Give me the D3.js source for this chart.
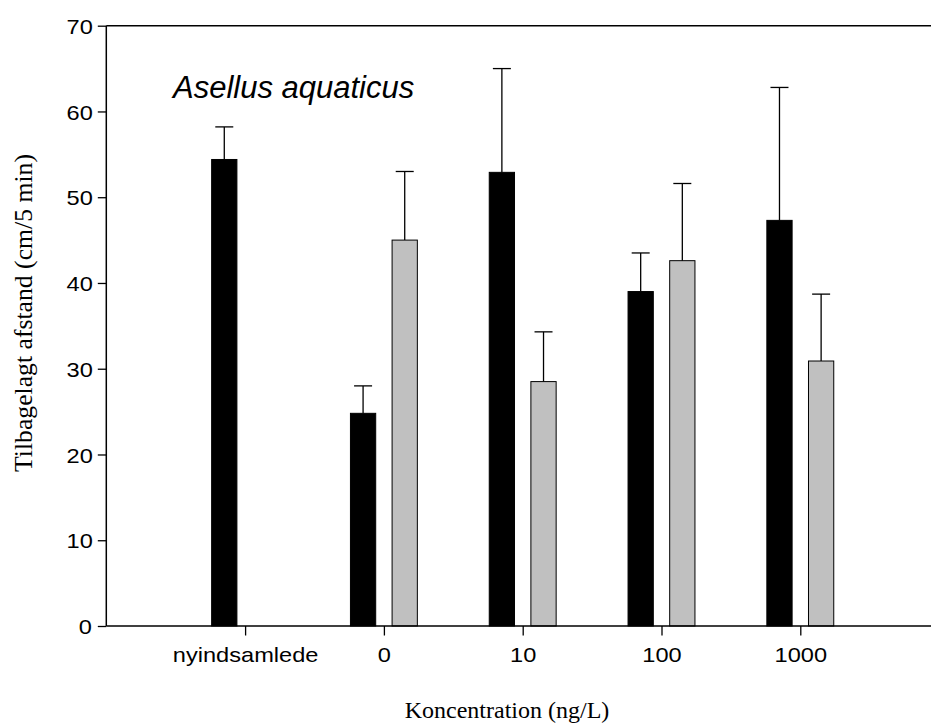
<!DOCTYPE html>
<html lang="en">
<head>
<meta charset="utf-8">
<title>Asellus aquaticus</title>
<script src="https://d3js.org/d3.v7.min.js" charset="utf-8"></script>
<style>
body { margin: 0; background: #fff; }
svg { display: block; }
.tick text {
  font-family: "Liberation Sans", Arial, sans-serif;
  font-size: 20px;
  fill: #000;
  transform-box: fill-box;
  transform-origin: center;
  transform: scaleX(1.18);
}
.axis-title { font-family: "Liberation Serif", "Times New Roman", serif; font-size: 24px; fill: #000; }
</style>
</head>
<body>
<svg width="931" height="725"></svg>
<script>
// data
var categories = ["nyindsamlede", "0", "10", "100", "1000"];
var blackMean = [54.4, 24.8, 52.9, 39.0, 47.3];
var blackErr  = [3.8, 3.2, 12.1, 4.5, 15.5];
var greyMean  = [null, 45.0, 28.5, 42.6, 30.9];
var greyErr   = [null, 8.0, 5.8, 9.0, 7.8];
var yTicks = [0, 10, 20, 30, 40, 50, 60, 70];

var svg = d3.select("svg"),
    plotLeft = 106.3, plotTop = 25.7, plotBottom = 626, plotRight = 940;

var y = d3.scaleLinear().domain([0, 70]).range([plotBottom, plotTop]);
var x = d3.scaleLinear().domain([0, 6]).range([plotLeft, plotLeft + 6 * 138.8]);
var step = x(1) - x(0),
    barW = 0.182 * step,
    off = 0.15 * step;

// bars
var rows = [];
categories.forEach(function(c, i) {
  rows.push({ i: i, v: blackMean[i], e: blackErr[i], dx: -off, fill: "#000" });
  if (greyMean[i] != null) rows.push({ i: i, v: greyMean[i], e: greyErr[i], dx: off, fill: "#c0c0c0" });
});

var g = svg.append("g");
g.selectAll("rect")
  .data(rows)
  .enter().append("rect")
    .attr("x", function(d) { return x(d.i + 1) + d.dx - barW / 2; })
    .attr("y", function(d) { return y(d.v); })
    .attr("width", barW)
    .attr("height", function(d) { return y(0) - y(d.v); })
    .attr("fill", function(d) { return d.fill; })
    .attr("stroke", "#000")
    .attr("stroke-width", 1);

// upper error bars
g.selectAll("line.err")
  .data(rows)
  .enter().append("line")
    .attr("class", "err")
    .attr("x1", function(d) { return x(d.i + 1) + d.dx; })
    .attr("x2", function(d) { return x(d.i + 1) + d.dx; })
    .attr("y1", function(d) { return y(d.v); })
    .attr("y2", function(d) { return y(d.v + d.e); })
    .attr("stroke", "#000").attr("stroke-width", 1.3);
g.selectAll("line.cap")
  .data(rows)
  .enter().append("line")
    .attr("class", "cap")
    .attr("x1", function(d) { return x(d.i + 1) + d.dx - 9; })
    .attr("x2", function(d) { return x(d.i + 1) + d.dx + 9; })
    .attr("y1", function(d) { return y(d.v + d.e); })
    .attr("y2", function(d) { return y(d.v + d.e); })
    .attr("stroke", "#000").attr("stroke-width", 1.3);

// axes
var yAxis = svg.append("g")
  .attr("transform", "translate(" + plotLeft + ",0)")
  .call(d3.axisLeft(y).tickValues(yTicks).tickSize(8.5).tickPadding(7));
var xAxis = svg.append("g")
  .attr("transform", "translate(0," + plotBottom + ")")
  .call(d3.axisBottom(x).tickValues([1, 2, 3, 4, 5]).tickSize(9.5).tickPadding(12)
    .tickFormat(function(d) { return categories[d - 1]; }));
svg.selectAll(".domain").remove();
svg.selectAll(".tick line").attr("stroke", "#000").attr("stroke-width", 1.3);
yAxis.selectAll("text").attr("dy", "0.38em");

// frame: left, bottom and top lines
svg.append("line").attr("x1", plotLeft).attr("x2", plotLeft).attr("y1", plotTop).attr("y2", plotBottom)
  .attr("stroke", "#000").attr("stroke-width", 1.5);
svg.append("line").attr("x1", plotLeft).attr("x2", plotRight).attr("y1", plotBottom).attr("y2", plotBottom)
  .attr("stroke", "#000").attr("stroke-width", 1.5);
svg.append("line").attr("x1", plotLeft).attr("x2", plotRight).attr("y1", plotTop).attr("y2", plotTop)
  .attr("stroke", "#000").attr("stroke-width", 1.5);

// titles
svg.append("text")
  .attr("x", 173).attr("y", 98)
  .style("font-family", "'Liberation Sans', Arial, sans-serif")
  .style("font-style", "italic")
  .style("font-size", "31px")
  .text("Asellus aquaticus");

svg.append("text")
  .attr("class", "axis-title")
  .attr("x", 507).attr("y", 718)
  .attr("text-anchor", "middle")
  .text("Koncentration (ng/L)");

svg.append("text")
  .attr("class", "axis-title")
  .style("font-size", "25.7px")
  .attr("transform", "translate(32,313) rotate(-90)")
  .attr("text-anchor", "middle")
  .text("Tilbagelagt afstand (cm/5 min)");
</script>
</body>
</html>
